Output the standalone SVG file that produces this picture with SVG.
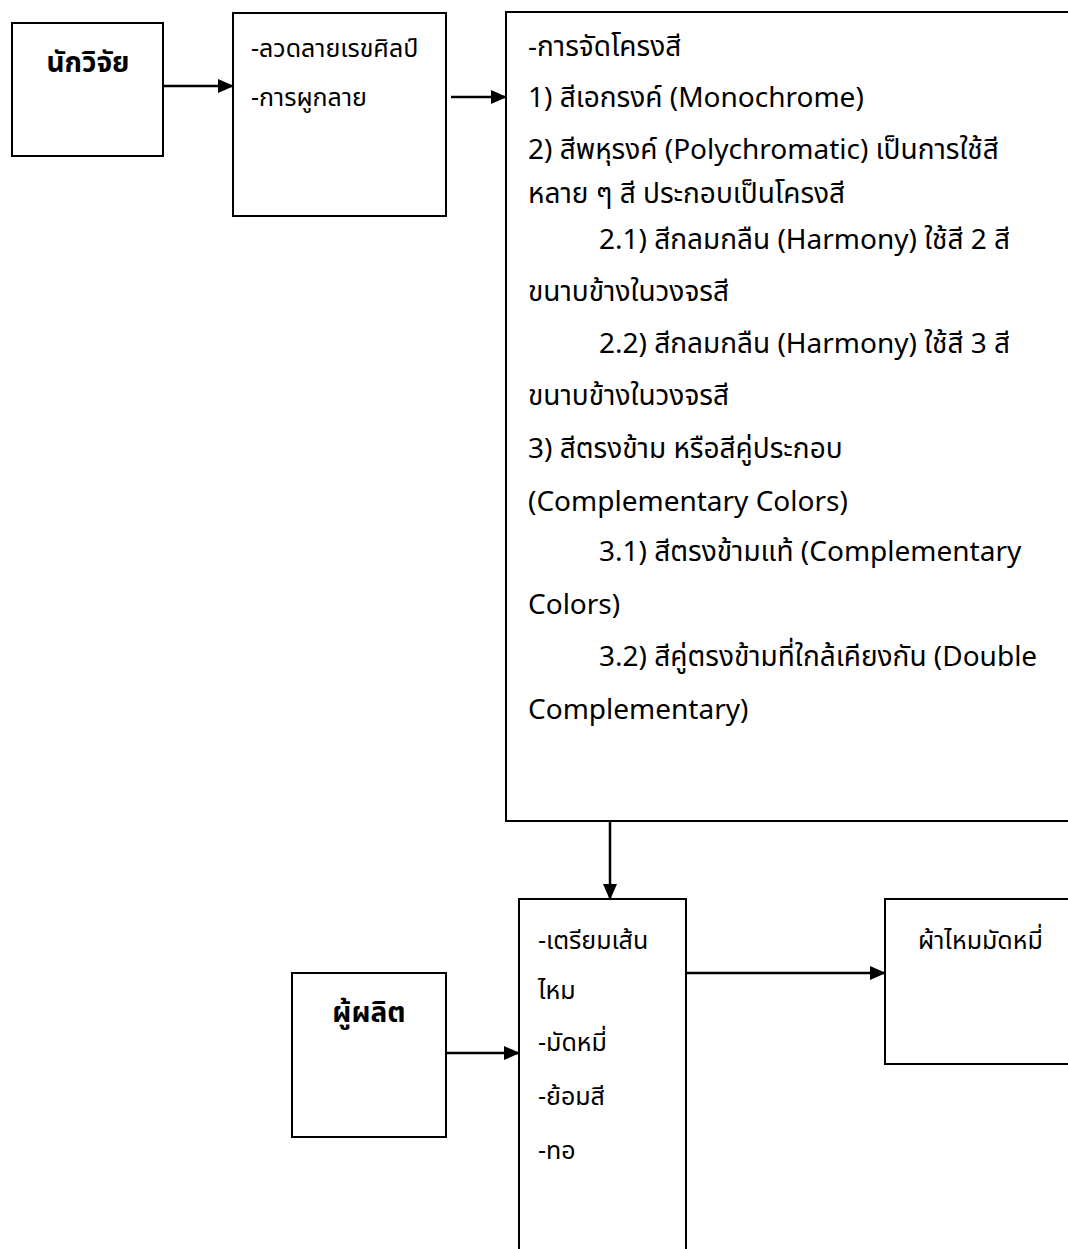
<svg xmlns="http://www.w3.org/2000/svg" width="1068" height="1249" viewBox="0 0 1068 1249">
<defs>
<marker id="arr" markerWidth="16" markerHeight="14" refX="15" refY="7" orient="auto" markerUnits="userSpaceOnUse">
<path d="M0,0 L16,7 L0,14 Z" fill="#000"/>
</marker>
<style>
.box{fill:#fff;stroke:#000;stroke-width:2}
.t{font-family:"Noto Sans","Noto Sans Thai","Leelawadee UI",Tahoma,sans-serif;font-size:25px;fill:#000}
.m{font-size:28px}
.b{font-family:"Noto Sans","Noto Sans Thai",Tahoma,sans-serif;font-size:28px;font-weight:bold;fill:#000}
.c{fill:none;stroke:#000;stroke-width:2.5}
</style>
</defs>
<rect width="1068" height="1249" fill="#fff"/>
<g id="connectors">
<line class="c" x1="163" y1="86" x2="233" y2="86" marker-end="url(#arr)"/>
<line class="c" x1="451" y1="97" x2="506" y2="97" marker-end="url(#arr)"/>
<line class="c" x1="610" y1="821" x2="610" y2="899" marker-end="url(#arr)"/>
<line class="c" x1="686" y1="973" x2="885" y2="973" marker-end="url(#arr)"/>
<line class="c" x1="446" y1="1053" x2="519" y2="1053" marker-end="url(#arr)"/>
</g>
<g id="researcher">
<rect class="box" x="12" y="23" width="151" height="133"/>
<text class="b" x="88" y="72" text-anchor="middle">นักวิจัย</text>
</g>
<g id="design">
<rect class="box" x="233" y="13" width="213" height="203"/>
<text class="t" x="251" y="57">-ลวดลายเรขศิลป์</text>
<text class="t" x="251" y="106">-การผูกลาย</text>
</g>
<g id="colour">
<rect class="box" x="506" y="12" width="580" height="809"/>
<text class="t m" x="528" y="56">-การจัดโครงสี</text>
<text class="t m" x="528" y="107">1) สีเอกรงค์ (Monochrome)</text>
<text class="t m" x="528" y="159">2) สีพหุรงค์ (Polychromatic) เป็นการใช้สี</text>
<text class="t m" x="528" y="203">หลาย ๆ สี ประกอบเป็นโครงสี</text>
<text class="t m" x="599" y="249">2.1) สีกลมกลืน (Harmony) ใช้สี 2 สี</text>
<text class="t m" x="528" y="301">ขนาบข้างในวงจรสี</text>
<text class="t m" x="599" y="353">2.2) สีกลมกลืน (Harmony) ใช้สี 3 สี</text>
<text class="t m" x="528" y="405">ขนาบข้างในวงจรสี</text>
<text class="t m" x="528" y="458">3) สีตรงข้าม หรือสีคู่ประกอบ</text>
<text class="t m" x="528" y="511">(Complementary Colors)</text>
<text class="t m" x="599" y="561">3.1) สีตรงข้ามแท้ (Complementary</text>
<text class="t m" x="528" y="614">Colors)</text>
<text class="t m" x="599" y="666">3.2) สีคู่ตรงข้ามที่ใกล้เคียงกัน (Double</text>
<text class="t m" x="528" y="719">Complementary)</text>
</g>
<g id="process">
<rect class="box" x="519" y="899" width="167" height="370"/>
<text class="t" x="538" y="949">-เตรียมเส้น</text>
<text class="t" x="538" y="999">ไหม</text>
<text class="t" x="538" y="1051">-มัดหมี่</text>
<text class="t" x="538" y="1105">-ย้อมสี</text>
<text class="t" x="538" y="1159">-ทอ</text>
</g>
<g id="producer">
<rect class="box" x="292" y="973" width="154" height="164"/>
<text class="b" x="369" y="1022" text-anchor="middle">ผู้ผลิต</text>
</g>
<g id="product">
<rect class="box" x="885" y="899" width="200" height="165"/>
<text class="t" x="918" y="949">ผ้าไหมมัดหมี่</text>
</g>
</svg>
